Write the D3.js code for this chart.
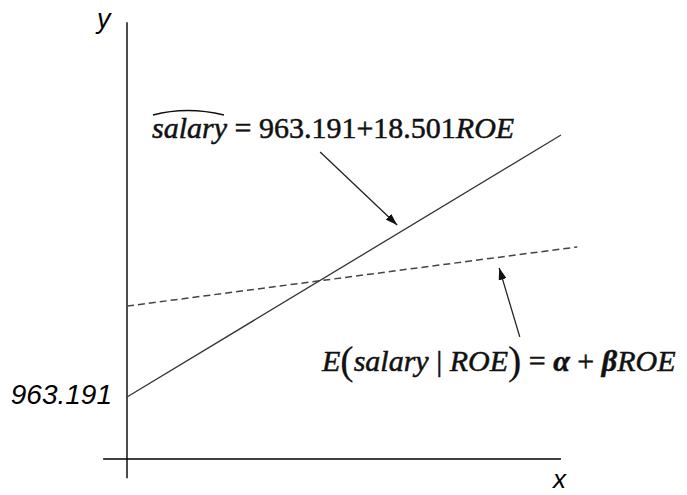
<!DOCTYPE html>
<html><head><meta charset="utf-8">
<script src="https://cdn.jsdelivr.net/npm/d3@7"></script>
<style>body{margin:0;background:#fff}svg{display:block}</style>
</head><body>
<svg id="chart" width="687" height="495"></svg>
<script>
// Fitted OLS line: salary-hat = 963.191 + 18.501 ROE
const intercept = 963.191;
const slope = 18.501;
const roeSpan = [0, 40];
// Population regression line E(salary|ROE) = alpha + beta ROE (illustrative)
const popRoe = [0, 41.5];
const popSalary = [1220, 1387];
// Axis extents in data units
const xAxisRoe = [-2.2, 40];
const yAxisSalary = [734, 2022];
const axisSalary = 788;
// Annotation arrows: [tail, head] in (ROE, salary)
const arrowTails = [[17.8, 1655], [36.2, 1133]];
const arrowHeads = [[24.9, 1449], [34.3, 1328]];

const svg = d3.select("#chart");
const x = d3.scaleLinear().domain([0, 40]).range([127, 561]);
const y = d3.scaleLinear().domain([intercept, intercept + slope * 40]).range([397, 135]);

const defs = svg.append("defs");
defs.append("marker")
  .attr("id", "head").attr("markerUnits", "userSpaceOnUse")
  .attr("viewBox", "0 0 12 8").attr("refX", 12).attr("refY", 4)
  .attr("markerWidth", 12).attr("markerHeight", 8).attr("orient", "auto")
  .append("path").attr("d", "M0,0L12,4L0,8Z").attr("fill", "#111");

const line = d3.line().x(d => x(d[0])).y(d => y(d[1]));

// axes
svg.append("path")
  .attr("d", line([[0, yAxisSalary[0]], [0, yAxisSalary[1]]]))
  .attr("stroke", "#000").attr("stroke-width", 1.4).attr("fill", "none");
svg.append("path")
  .attr("d", line([[xAxisRoe[0], axisSalary], [xAxisRoe[1], axisSalary]]))
  .attr("stroke", "#000").attr("stroke-width", 1.4).attr("fill", "none");

// fitted line
const fitted = roeSpan.map(r => [r, intercept + slope * r]);
svg.append("path").attr("d", line(fitted))
  .attr("stroke", "#333").attr("stroke-width", 1.3).attr("fill", "none");

// population line (dashed)
const pop = popRoe.map((r, i) => [r, popSalary[i]]);
svg.append("path").attr("d", line(pop))
  .attr("stroke", "#444").attr("stroke-width", 1.5).attr("stroke-dasharray", "7,4").attr("fill", "none");

// arrows
arrowTails.forEach((t, i) => {
  svg.append("path").attr("d", line([t, arrowHeads[i]]))
    .attr("stroke", "#222").attr("stroke-width", 1.3).attr("fill", "none")
    .attr("marker-end", "url(#head)");
});

const sans = "'Liberation Sans', Arial, sans-serif";
const serif = "'Liberation Serif', 'Times New Roman', serif";

// axis labels
svg.append("text").attr("x", 97).attr("y", 28).text("y")
  .attr("font-family", sans).attr("font-style", "italic").attr("font-size", 27);
svg.append("text").attr("x", 553).attr("y", 488).text("x")
  .attr("font-family", sans).attr("font-style", "italic").attr("font-size", 26);
svg.append("text").attr("x", 112).attr("y", y(intercept) + 7).attr("text-anchor", "end")
  .text(d3.format(".3f")(intercept))
  .attr("font-family", sans).attr("font-style", "italic").attr("font-size", 28);

// fitted equation
const eq1 = svg.append("text").attr("x", 152).attr("y", 138)
  .attr("font-family", serif).attr("font-size", 30).attr("fill", "#111")
  .attr("stroke", "#111").attr("stroke-width", 0.5);
eq1.append("tspan").attr("font-style", "italic").text("salary");
eq1.append("tspan").text(" = " + intercept + "+" + slope);
eq1.append("tspan").attr("font-style", "italic").text("ROE");
// hat over "salary"
svg.append("path").attr("d", "M153,115 Q187,106 224,115")
  .attr("stroke", "#111").attr("stroke-width", 1.6).attr("fill", "none");

// population equation
const eq2 = svg.append("text").attr("x", 322).attr("y", 371)
  .attr("font-family", serif).attr("font-size", 30).attr("fill", "#111")
  .attr("stroke", "#111").attr("stroke-width", 0.5);
eq2.append("tspan").attr("font-style", "italic").text("E");
eq2.append("tspan").attr("font-size", 40).attr("dy", 3).attr("stroke-width", 0.2).text("(");
eq2.append("tspan").attr("font-style", "italic").attr("dy", -3).text("salary");
eq2.append("tspan").text(" | ");
eq2.append("tspan").attr("font-style", "italic").text("ROE");
eq2.append("tspan").attr("font-size", 40).attr("dy", 3).attr("stroke-width", 0.2).text(")");
eq2.append("tspan").attr("dy", -3).text(" = ");
eq2.append("tspan").attr("font-style", "italic").attr("font-weight", "bold").text("α");
eq2.append("tspan").text(" + ");
eq2.append("tspan").attr("font-style", "italic").attr("font-weight", "bold").text("β");
eq2.append("tspan").attr("font-style", "italic").text("ROE");
</script>
</body></html>
